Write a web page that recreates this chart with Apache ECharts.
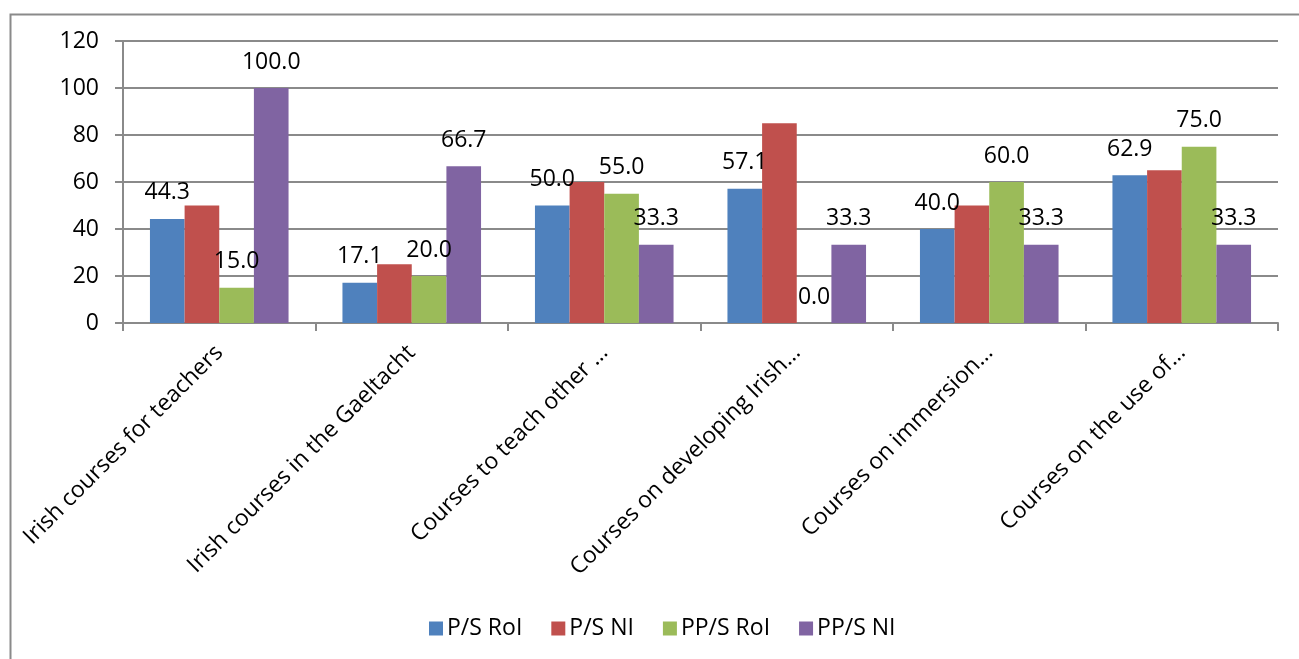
<!DOCTYPE html>
<html>
<head>
<meta charset="utf-8">
<script src="https://cdn.jsdelivr.net/npm/echarts@6/dist/echarts.min.js"></script>
<style>
  html, body { margin: 0; padding: 0; background: #ffffff; }
  #chart { width: 1299px; height: 659px; }
</style>
</head>
<body>
<div id="chart"></div>
<script>
// Course categories along the x axis
const categories = [
  'Irish courses for teachers',
  'Irish courses in the Gaeltacht',
  'Courses to teach other …',
  'Courses on developing Irish…',
  'Courses on immersion…',
  'Courses on the use of…'
];

// Percentages per school group
const psRoI = [44.3, 17.1, 50.0, 57.1, 40.0, 62.9];
const psNI = [50, 25, 60, 85, 50, 65];
const ppsRoI = [15.0, 20.0, 55.0, 0.0, 60.0, 75.0];
const ppsNI = [100.0, 66.7, 33.3, 33.3, 33.3, 33.3];

const seriesNames = ['P/S RoI', 'P/S NI', 'PP/S RoI', 'PP/S NI'];
const yTicks = [0, 20, 40, 60, 80, 100, 120];

const FONT = '"Open Sans", "Liberation Sans", sans-serif';
const FONT_SIZE = 23;
const GRID_COLOR = '#8a8a8a';

const valueLabel = {
  show: true,
  position: 'top',
  distance: 14,
  fontFamily: FONT,
  fontSize: FONT_SIZE,
  lineHeight: 24,
  color: '#000',
  formatter: p => p.value.toFixed(1)
};

function barSeries(name, data, color, labelled) {
  return {
    name: name,
    type: 'bar',
    data: data,
    barGap: '0%',
    barCategoryGap: '28%',
    itemStyle: { color: color },
    label: labelled ? valueLabel : { show: false },
    emphasis: { disabled: true }
  };
}

const chart = echarts.init(document.getElementById('chart'), null, { renderer: 'canvas' });

chart.setOption({
  animation: false,
  backgroundColor: '#ffffff',
  graphic: [{
    type: 'rect',
    left: 8,
    top: 12,
    shape: { width: 1400, height: 800 },
    style: { fill: 'none', stroke: GRID_COLOR, lineWidth: 2 },
    silent: true
  }],
  grid: { left: 123, right: 21, top: 41, bottom: 336, containLabel: false },
  legend: {
    data: seriesNames,
    left: 424,
    top: 612,
    itemWidth: 14,
    itemHeight: 14,
    itemGap: 29,
    icon: 'rect',
    textStyle: { fontFamily: FONT, fontSize: FONT_SIZE, color: '#000', padding: [0, 0, 0, -1] }
  },
  xAxis: {
    type: 'category',
    data: categories,
    boundaryGap: true,
    axisLine: { show: true, lineStyle: { color: GRID_COLOR, width: 2 } },
    axisTick: { show: true, length: 8, alignWithLabel: false, lineStyle: { color: GRID_COLOR, width: 2 } },
    axisLabel: {
      interval: 0,
      rotate: 45,
      margin: 26,
      fontFamily: FONT,
      fontSize: FONT_SIZE,
      color: '#000'
    }
  },
  yAxis: {
    type: 'value',
    min: yTicks[0],
    max: yTicks[yTicks.length - 1],
    interval: yTicks[1] - yTicks[0],
    axisLine: { show: true, lineStyle: { color: GRID_COLOR, width: 2 } },
    axisTick: { show: true, length: 8, lineStyle: { color: GRID_COLOR, width: 2 } },
    splitLine: { show: true, lineStyle: { color: GRID_COLOR, width: 2 } },
    axisLabel: {
      margin: 24,
      fontFamily: FONT,
      fontSize: FONT_SIZE,
      color: '#000'
    }
  },
  series: [
    barSeries(seriesNames[0], psRoI, '#4F81BD', true),
    barSeries(seriesNames[1], psNI, '#C0504D', false),
    barSeries(seriesNames[2], ppsRoI, '#9BBB59', true),
    barSeries(seriesNames[3], ppsNI, '#8064A2', true)
  ]
});
</script>
</body>
</html>
